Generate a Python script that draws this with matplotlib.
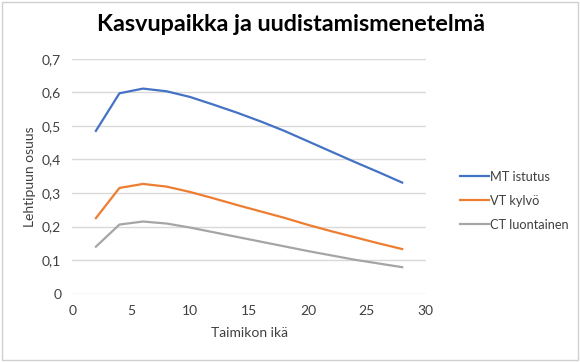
import matplotlib.pyplot as plt
from matplotlib.patches import Rectangle
from matplotlib.ticker import FuncFormatter

plt.rcParams['font.family'] = ['Lato', 'DejaVu Sans']

age = [2, 4, 6, 8, 10, 12, 14, 16, 18, 20, 22, 24, 26, 28]
mt_istutus = [0.485, 0.597, 0.611, 0.603, 0.586, 0.563, 0.539, 0.513, 0.485, 0.454,
              0.423, 0.392, 0.362, 0.331]
vt_kylvo = [0.225, 0.315, 0.327, 0.319, 0.303, 0.284, 0.264, 0.245, 0.226, 0.205,
            0.186, 0.168, 0.150, 0.133]
ct_luontainen = [0.140, 0.206, 0.215, 0.209, 0.197, 0.183, 0.169, 0.155, 0.141, 0.127,
                 0.114, 0.101, 0.090, 0.079]

fig = plt.figure(figsize=(5.8, 3.62), dpi=100)
ax = fig.add_axes([0.1247, 0.1887, 0.6093, 0.6491])

ax.plot(age, mt_istutus, color='#4472C4', lw=1.6, label='MT istutus')
ax.plot(age, vt_kylvo, color='#ED7D31', lw=1.6, label='VT kylvö')
ax.plot(age, ct_luontainen, color='#A5A5A5', lw=1.6, label='CT luontainen')

ax.set_xlim(0, 30)
ax.set_ylim(0, 0.7)
ax.set_xticks(range(0, 31, 5))
ax.set_yticks([i / 10 for i in range(8)])
ax.yaxis.set_major_formatter(FuncFormatter(lambda v, p: ('%.1f' % v).replace('.', ',') if v else '0'))
ax.grid(axis='y', color='#d9d9d9', lw=1)
ax.set_axisbelow(True)
for s in ax.spines.values():
    s.set_visible(False)
ax.tick_params(length=0, labelsize=10, colors='#404040', pad=8)
ax.set_xlabel('Taimikon ikä', fontsize=10, color='#404040', labelpad=7)
ax.set_ylabel('Lehtipuun osuus', fontsize=10, color='#404040', labelpad=4)

fig.suptitle('Kasvupaikka ja uudistamismenetelmä', x=0.502, y=0.96, fontsize=16.8,
             fontweight='bold', color='black')

fig.legend(loc='center left', bbox_to_anchor=(0.774, 0.4456), frameon=False,
           fontsize=9.2, handlelength=2.2, handletextpad=0.1, labelspacing=0.95,
           labelcolor='#404040')

fig.patches.append(Rectangle((0.003, 0.005), 0.994, 0.99, transform=fig.transFigure,
                             fill=False, edgecolor='#d0d0d0', lw=1))

fig.savefig('out.png', dpi=100)
